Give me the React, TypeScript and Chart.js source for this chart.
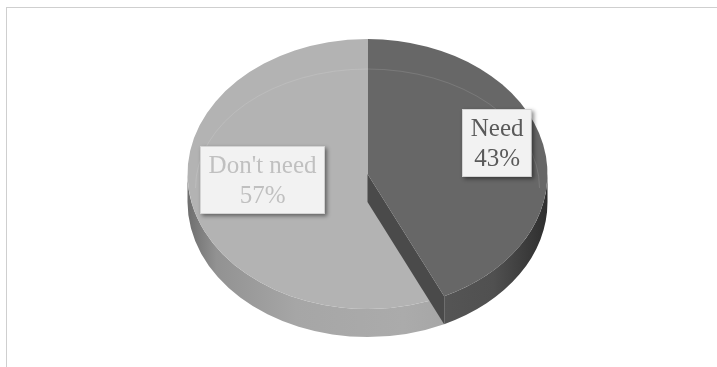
import React, { useEffect, useRef } from "react";
import { Chart, registerables } from "chart.js";

Chart.register(...registerables);

// ---- data ----
const categories = ["Need", "Don't need"];
const shares = [43, 57];
const percentLabels = ["43%", "57%"];

// ---- styles ----
const topColors = ["#676767", "#b3b3b3"];
const labelTextColors = ["#5a5a5a", "#c0c0c0"];
// label placement relative to the ellipse (fraction of rx, ry)
const labelOffsets = [
  [0.72, -0.23],
  [-0.583, 0.044],
];

const TILT = 0.75;
const DEPTH = 28;
const TOP_CY = 174;
const FONT = "25px \"Liberation Serif\", \"Times New Roman\", \"DejaVu Serif\", serif";

function geom(chart: any) {
  const arcs = chart.getDatasetMeta(0).data as any[];
  const a0 = arcs[0];
  const r = a0.outerRadius;
  return { arcs, cx: a0.x, cy0: a0.y, rx: r, ry: r * TILT, cy: TOP_CY };
}

const pie3d = {
  id: "pie3d",
  beforeDatasetsDraw(chart: any) {
    const ctx = chart.ctx as CanvasRenderingContext2D;
    const g = geom(chart);
    g.arcs.forEach((arc: any, i: number) => {
      const a = Math.max(arc.startAngle, 0);
      const b = Math.min(arc.endAngle, Math.PI);
      if (a >= b) return;
      const grad = ctx.createLinearGradient(g.cx - g.rx, 0, g.cx + g.rx, 0);
      if (i === 0) {
        grad.addColorStop(0, "#5a5a5a");
        grad.addColorStop(0.55, "#5a5a5a");
        grad.addColorStop(0.85, "#505050");
        grad.addColorStop(1, "#2e2e2e");
      } else {
        grad.addColorStop(0, "#6e6e6e");
        grad.addColorStop(0.08, "#929292");
        grad.addColorStop(0.3, "#a6a6a6");
        grad.addColorStop(0.6, "#ababab");
        grad.addColorStop(1, "#9a9a9a");
      }
      ctx.save();
      ctx.beginPath();
      ctx.ellipse(g.cx, g.cy, g.rx, g.ry, 0, a, b);
      ctx.ellipse(g.cx, g.cy + DEPTH, g.rx, g.ry, 0, b, a, true);
      ctx.closePath();
      ctx.fillStyle = grad;
      ctx.fill();
      ctx.restore();
    });
    ctx.save();
    ctx.translate(0, g.cy);
    ctx.scale(1, TILT);
    ctx.translate(0, -g.cy0);
  },
  afterDatasetsDraw(chart: any) {
    const ctx = chart.ctx as CanvasRenderingContext2D;
    ctx.restore();
    const g = geom(chart);
    // faint bevel line on top face
    ctx.save();
    ctx.beginPath();
    ctx.ellipse(g.cx, g.cy + 14, g.rx - 8, g.ry - 16, 0, Math.PI, 2 * Math.PI);
    ctx.strokeStyle = "rgba(255,255,255,0.12)";
    ctx.lineWidth = 1;
    ctx.stroke();
    ctx.restore();
    // cut face of first slice
    const e = g.arcs[0].endAngle;
    const px = g.cx + g.rx * Math.cos(e);
    const py = g.cy + g.ry * Math.sin(e);
    ctx.save();
    ctx.beginPath();
    ctx.moveTo(g.cx, g.cy);
    ctx.lineTo(px, py);
    ctx.lineTo(px, py + DEPTH);
    ctx.lineTo(g.cx, g.cy + DEPTH);
    ctx.closePath();
    ctx.fillStyle = "#4a4a4a";
    ctx.fill();
    ctx.restore();
  },
  afterDraw(chart: any) {
    const ctx = chart.ctx as CanvasRenderingContext2D;
    const g = geom(chart);
    ctx.save();
    ctx.font = FONT;
    categories.forEach((name, i) => {
      const lx = g.cx + labelOffsets[i][0] * g.rx;
      const ly = g.cy + labelOffsets[i][1] * g.ry;
      const w = Math.max(ctx.measureText(name).width, ctx.measureText(percentLabels[i]).width) + 17;
      const h = 68;
      const x0 = Math.round(lx - w / 2);
      const y0 = Math.round(ly - h / 2);
      ctx.save();
      ctx.shadowColor = "rgba(0,0,0,0.45)";
      ctx.shadowBlur = 4;
      ctx.shadowOffsetX = 2;
      ctx.shadowOffsetY = 2;
      ctx.fillStyle = "#f2f2f2";
      ctx.fillRect(x0, y0, w, h);
      ctx.restore();
      ctx.strokeStyle = "rgba(0,0,0,0.12)";
      ctx.lineWidth = 1;
      ctx.strokeRect(x0 + 0.5, y0 + 0.5, w - 1, h - 1);
      ctx.fillStyle = labelTextColors[i];
      ctx.textAlign = "center";
      ctx.textBaseline = "middle";
      ctx.fillText(name, lx, ly - 14);
      ctx.fillText(percentLabels[i], lx, ly + 16);
    });
    ctx.restore();
  },
};

export default function App() {
  const ref = useRef<HTMLCanvasElement | null>(null);
  useEffect(() => {
    if (!ref.current) return;
    const chart = new Chart(ref.current, {
      type: "pie",
      data: {
        labels: categories,
        datasets: [
          {
            data: shares,
            backgroundColor: topColors,
            borderWidth: 0,
          },
        ],
      },
      options: {
        responsive: false,
        animation: false,
        layout: { padding: { left: 18, right: 0, top: 3, bottom: 4 } },
        plugins: {
          legend: { display: false },
          tooltip: { enabled: false },
        },
      },
      plugins: [pie3d],
    });
    let alive = true;
    if ((document as any).fonts && (document as any).fonts.load) {
      (document as any).fonts.load(FONT, "Need Don't 57%").then(() => {
        if (alive) chart.update();
      }).catch(() => {});
    }
    return () => {
      alive = false;
      chart.destroy();
    };
  }, []);
  return (
    <div style={{ position: "fixed", left: 0, top: 0, width: 717, height: 367, background: "#ffffff", overflow: "hidden" }}>
      <div
        style={{
          position: "absolute",
          left: 6,
          top: 7,
          width: 800,
          height: 400,
          borderLeft: "1px solid #cfcfcf",
          borderTop: "1px solid #cfcfcf",
        }}
      />
      <span style={{ position: "absolute", left: -1000, top: -1000, fontFamily: "\"Liberation Serif\"", fontSize: 25 }}>Need Don't 57%</span>
      <canvas ref={ref} width={717} height={367} style={{ position: "absolute", left: 0, top: 0 }} />
    </div>
  );
}
